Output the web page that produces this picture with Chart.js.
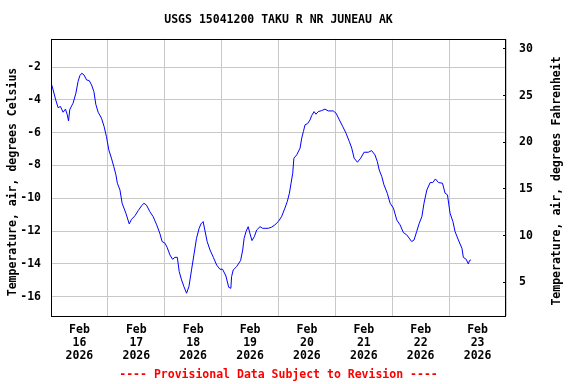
<!DOCTYPE html>
<html><head><meta charset="utf-8">
<script src="https://cdn.jsdelivr.net/npm/chart.js@4/dist/chart.umd.min.js"></script>
<style>html,body{margin:0;padding:0;background:#fff;}#wrap{width:576px;height:384px;position:relative;}</style>
</head><body><div id="wrap"><canvas id="c" width="576" height="384"></canvas></div>
<script>
// hours since Feb 16 2026 00:00
const hours = [0.2,0.9,2.0,3.0,4.0,5.1,6.1,6.8,7.4,7.9,8.7,9.3,10.5,11.4,12.2,13.0,13.9,15.0,16.1,17.1,18.1,18.9,19.9,21.3,22.4,23.4,24.4,25.5,26.5,27.4,28.0,29.1,30.0,31.6,33.0,34.0,35.4,36.8,38.2,39.2,40.3,41.7,43.1,44.6,45.9,46.9,48.1,49.0,50.2,51.3,52.3,53.3,54.1,55.1,56.1,57.2,58.2,59.3,60.3,61.4,62.5,63.3,64.2,64.9,65.9,67.1,68.5,69.9,71.3,72.4,73.8,75.0,75.9,76.2,76.9,78.3,80.0,80.9,81.5,82.3,83.2,84.0,84.8,85.8,86.8,88.2,89.3,91.7,93.1,94.5,95.9,97.3,98.7,99.7,100.6,101.3,102.0,102.5,103.7,105.1,105.8,106.5,107.2,108.3,109.3,110.0,111.0,111.8,112.8,114.2,115.6,117.0,119.1,120.3,121.7,123.1,124.5,125.9,126.9,127.9,129.3,130.7,132.1,133.9,135.3,136.7,137.7,138.5,139.6,140.5,141.9,143.1,144.5,145.9,147.3,148.7,150.1,152.2,153.2,154.3,155.4,156.5,157.4,158.6,160.0,161.1,162.2,163.5,165.2,166.3,167.3,168.4,169.6,170.5,171.9,173.4,174.0,175.2,176.1,176.6,177.2];
const tempC = [-3.04,-3.39,-4.0,-4.47,-4.4,-4.75,-4.56,-4.87,-5.28,-4.6,-4.36,-4.2,-3.59,-2.88,-2.51,-2.37,-2.47,-2.78,-2.82,-3.08,-3.49,-4.26,-4.75,-5.11,-5.62,-6.24,-7.05,-7.55,-8.07,-8.57,-9.08,-9.49,-10.3,-10.91,-11.56,-11.28,-11.07,-10.75,-10.46,-10.3,-10.42,-10.81,-11.12,-11.62,-12.13,-12.64,-12.74,-12.99,-13.46,-13.72,-13.6,-13.6,-14.47,-14.98,-15.39,-15.79,-15.39,-14.37,-13.46,-12.44,-11.83,-11.56,-11.42,-11.93,-12.64,-13.15,-13.6,-14.07,-14.33,-14.33,-14.74,-15.43,-15.49,-14.78,-14.37,-14.17,-13.8,-13.15,-12.44,-12.03,-11.73,-12.17,-12.58,-12.34,-11.93,-11.73,-11.83,-11.83,-11.76,-11.62,-11.42,-11.12,-10.6,-10.2,-9.69,-9.08,-8.47,-7.55,-7.35,-6.94,-6.33,-5.93,-5.52,-5.44,-5.22,-4.95,-4.71,-4.87,-4.71,-4.65,-4.56,-4.67,-4.67,-4.81,-5.22,-5.62,-6.03,-6.54,-6.94,-7.55,-7.8,-7.55,-7.19,-7.19,-7.09,-7.35,-7.76,-8.27,-8.68,-9.18,-9.69,-10.3,-10.6,-11.32,-11.62,-12.09,-12.23,-12.64,-12.54,-12.03,-11.52,-11.12,-10.3,-9.49,-9.04,-9.04,-8.82,-9.04,-9.08,-9.69,-9.79,-10.91,-11.42,-12.03,-12.54,-13.05,-13.6,-13.72,-14.0,-13.8,-13.76];
const yTicksC = [-16,-14,-12,-10,-8,-6,-4,-2];
const yTicksF = [5,10,15,20,25,30];
const dayLabels = ['16','17','18','19','20','21','22','23'];
const monthLabel = 'Feb';
const yearLabel = '2026';
const titleText = 'USGS 15041200 TAKU R NR JUNEAU AK';
const noteText = '---- Provisional Data Subject to Revision ----';
const yTitleC = 'Temperature, air, degrees Celsius';
const yTitleF = 'Temperature, air, degrees Fahrenheit';

const FONT = "'DejaVu Sans Mono', 'Liberation Mono', monospace";
Chart.defaults.font.family = FONT;
Chart.defaults.font.weight = 'bold';
Chart.defaults.font.size = 11.5;
Chart.defaults.color = '#000';

const xTickValues = [];
for (let i = 0; i <= dayLabels.length; i++) {
  xTickValues.push(i * 24);
  if (i < dayLabels.length) xTickValues.push(i * 24 + 12);
}

const framePlugin = {
  id: 'frame',
  afterDatasetsDraw(chart) {
    const {ctx, chartArea: a} = chart;
    ctx.save();
    ctx.strokeStyle = '#000';
    ctx.lineWidth = 1;
    ctx.strokeRect(Math.round(a.left) + 0.5, Math.round(a.top) + 0.5, Math.round(a.right - a.left) - 1, Math.round(a.bottom - a.top));
    ctx.restore();
  },
  afterDraw(chart) {
    const {ctx, chartArea: a} = chart;
    ctx.save();
    ctx.font = "bold 11.5px " + FONT;
    ctx.textAlign = 'center';
    ctx.textBaseline = 'middle';
    ctx.fillStyle = '#ff0000';
    ctx.fillText(noteText, (a.left + a.right) / 2, 375);
    ctx.fillStyle = '#000';
    ctx.save();
    ctx.translate(13, 182);
    ctx.rotate(-Math.PI / 2);
    ctx.fillText(yTitleC, 0, 0);
    ctx.restore();
    ctx.save();
    ctx.translate(557, 181);
    ctx.rotate(-Math.PI / 2);
    ctx.fillText(yTitleF, 0, 0);
    ctx.restore();
    ctx.restore();
  }
};

new Chart(document.getElementById('c'), {
  type: 'line',
  data: {
    datasets: [{
      data: hours.map((h, i) => ({x: h, y: tempC[i]})),
      borderColor: '#0000ff',
      borderWidth: 1,
      pointRadius: 0,
      tension: 0,
      fill: false
    }]
  },
  options: {
    responsive: false,
    animation: false,
    devicePixelRatio: 1,
    layout: {padding: 0},
    plugins: {
      legend: {display: false},
      tooltip: {enabled: false},
      title: {
        display: true, text: titleText, fullSize: false,
        font: {size: 11.5, weight: 'bold', lineHeight: 1.2},
        padding: {top: 13, bottom: 12}, color: '#000'
      }
    },
    scales: {
      x: {
        type: 'linear', min: 0, max: dayLabels.length * 24,
        afterFit(s) { s.height = 68; },
        afterBuildTicks(s) { s.ticks = xTickValues.map(v => ({value: v})); },
        border: {display: false},
        grid: {
          drawTicks: false,
          color: c => (c.tick && c.tick.value % 24 === 0) ? '#c8c8c8' : 'rgba(0,0,0,0)'
        },
        ticks: {
          autoSkip: false, maxRotation: 0, padding: 7.5,
          font: {size: 11.5, weight: 'bold', lineHeight: '13px'},
          callback: v => (v % 24 === 12) ? [monthLabel, dayLabels[(v - 12) / 24], yearLabel] : ''
        }
      },
      y: {
        position: 'left', min: -17.18, max: -0.27,
        afterFit(s) { s.width = 51; },
        afterBuildTicks(s) { s.ticks = yTicksC.map(v => ({value: v})); },
        border: {display: false},
        grid: {drawTicks: false, color: '#c8c8c8'},
        ticks: {padding: 10}
      },
      y1: {
        position: 'right', min: 1.38, max: 31.08,
        afterFit(s) { s.width = 70; },
        afterBuildTicks(s) { s.ticks = yTicksF.map(v => ({value: v})); },
        border: {display: false},
        grid: {drawOnChartArea: false, drawTicks: true, tickLength: -3, tickColor: '#000', color: '#000'},
        ticks: {padding: 16}
      }
    }
  },
  plugins: [framePlugin]
});
</script>
</body></html>
